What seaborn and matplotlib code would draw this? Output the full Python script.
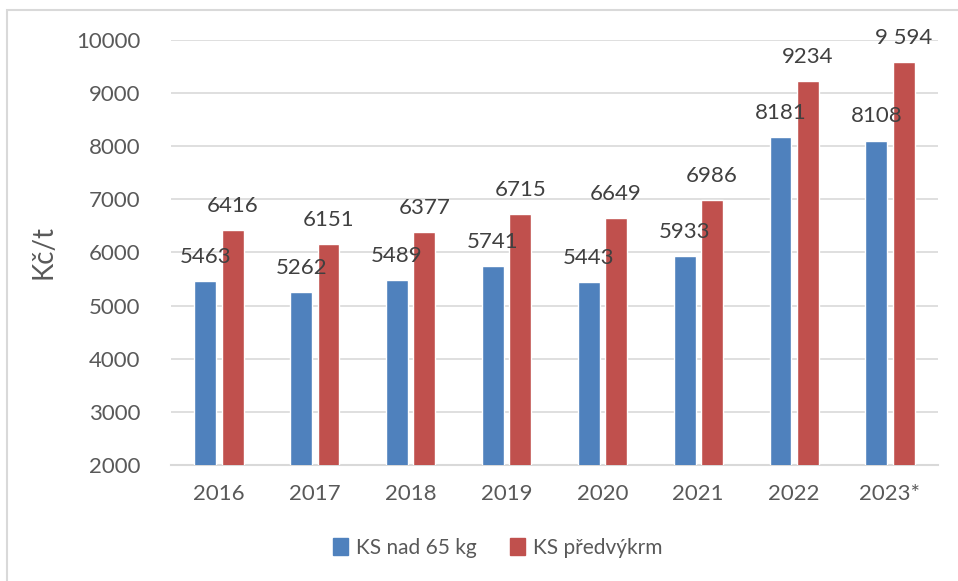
import pandas as pd
import matplotlib.pyplot as plt
import seaborn as sns
from matplotlib.patches import Rectangle

# data
years = ["2016", "2017", "2018", "2019", "2020", "2021", "2022", "2023*"]
ks_nad_65 = [5463, 5262, 5489, 5741, 5443, 5933, 8181, 8108]
ks_predvykrm = [6416, 6151, 6377, 6715, 6649, 6986, 9234, 9594]
labels_nad_65 = ["5463", "5262", "5489", "5741", "5443", "5933", "8181", "8108"]
labels_predvykrm = ["6416", "6151", "6377", "6715", "6649", "6986", "9234", "9 594"]
series_names = ["KS nad 65 kg", "KS předvýkrm"]
colors = ["#4f81bd", "#c0504d"]

df = pd.DataFrame({
    "rok": years * 2,
    "cena": ks_nad_65 + ks_predvykrm,
    "serie": [series_names[0]] * len(years) + [series_names[1]] * len(years),
})

sns.set_theme(style="white")
plt.rcParams["font.family"] = ["Lato", "DejaVu Sans"]

fig = plt.figure(figsize=(9.58, 5.81), dpi=100)
ax = fig.add_axes([0.1785, 0.2, 0.8005, 0.731])

sns.barplot(data=df, x="rok", y="cena", hue="serie", palette=colors,
            width=0.57, gap=0.2, ax=ax, saturation=1, zorder=3)

ax.set_ylim(2000, 10000)
ax.set_xlim(-0.5, len(years) - 0.5)
ax.set_yticks(range(2000, 10001, 1000))
ax.grid(axis="y", color="#d9d9d9", linewidth=1.2, zorder=0)
ax.set_axisbelow(True)
for s in ["top", "right", "left"]:
    ax.spines[s].set_visible(False)
ax.spines["bottom"].set_color("#d9d9d9")
ax.spines["bottom"].set_linewidth(1.5)

ax.tick_params(axis="y", length=0, pad=22, labelsize=16, labelcolor="#595959")
ax.tick_params(axis="x", length=0, pad=14, labelsize=16, labelcolor="#595959")
ax.set_xlabel("")
ax.set_ylabel("Kč/t", fontsize=20, color="#595959", labelpad=14)

# value labels above bars
for cont, labs in zip(ax.containers, [labels_nad_65, labels_predvykrm]):
    for bar, lab in zip(cont, labs):
        ax.annotate(lab, (bar.get_x() + bar.get_width() / 2, bar.get_height()),
                    xytext=(0, 13), textcoords="offset points",
                    ha="center", va="baseline", fontsize=16, color="#404040")

ax.legend_.remove()
handles = [Rectangle((0, 0), 1, 1, color=c) for c in colors]
fig.legend(handles, series_names, loc="center", bbox_to_anchor=(0.52, 0.057),
           ncol=2, frameon=False, fontsize=15, handlelength=0.7, handleheight=0.9,
           handletextpad=0.4, columnspacing=1.6, labelcolor="#595959")

# chart frame (only top and left edges visible in the crop)
fig.patches.append(Rectangle((7 / 958, -0.1), 1.2, 1 - 10 / 581 + 0.1,
                             transform=fig.transFigure, fill=False,
                             edgecolor="#d9d9d9", linewidth=1.5))

fig.savefig("out.png", dpi=100)
